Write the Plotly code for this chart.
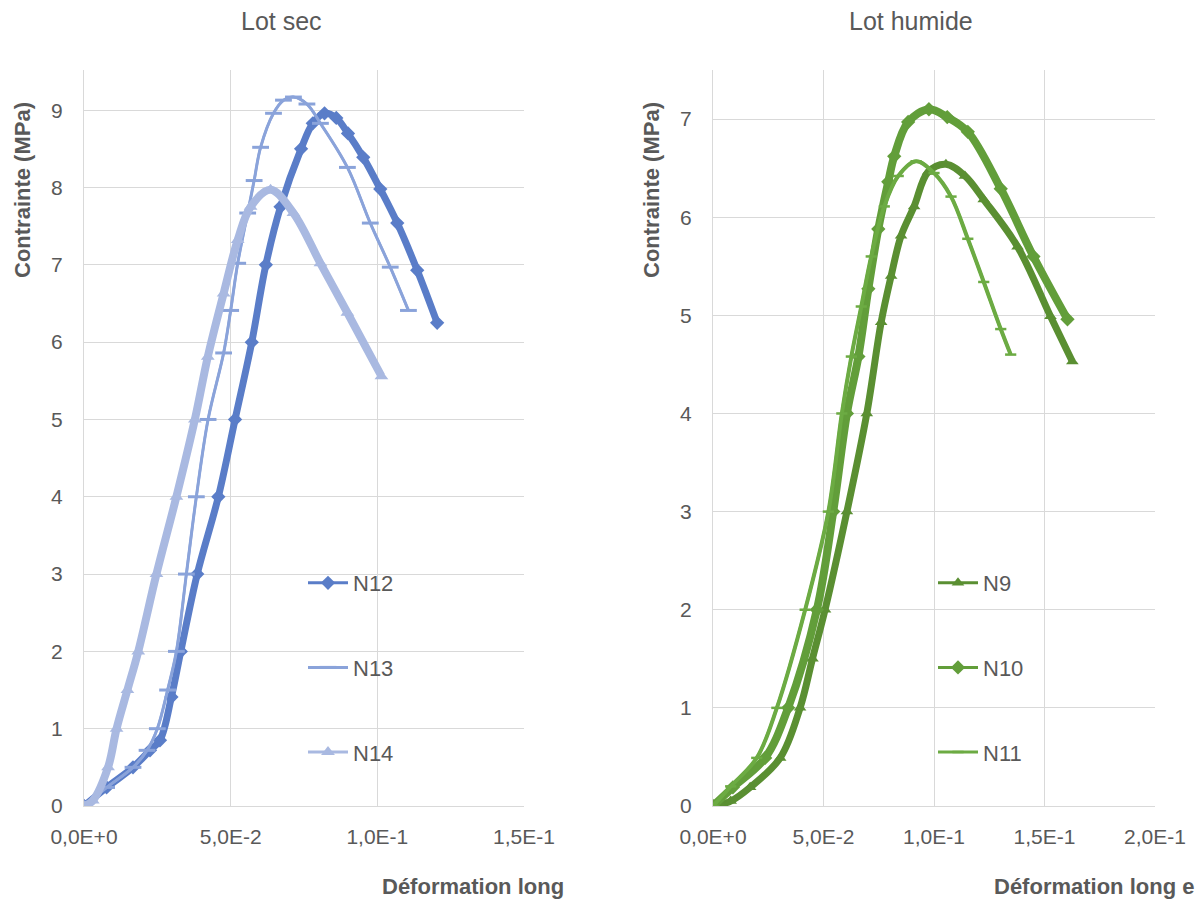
import plotly.graph_objects as go

# ---- data ----
x_ticks_left = [0, 0.05, 0.10, 0.15]
x_ticklabels_left = ["0,0E+0", "5,0E-2", "1,0E-1", "1,5E-1"]
x_ticks_right = [0, 0.05, 0.10, 0.15, 0.20]
x_ticklabels_right = ["0,0E+0", "5,0E-2", "1,0E-1", "1,5E-1", "2,0E-1"]
y_ticks_left = [0, 1, 2, 3, 4, 5, 6, 7, 8, 9]
y_ticks_right = [0, 1, 2, 3, 4, 5, 6, 7]

n12_x = [0, 0.0077, 0.0167, 0.0225, 0.0259, 0.0298, 0.0330, 0.0386, 0.0458, 0.0515, 0.0572, 0.062,
         0.067, 0.074, 0.078, 0.082, 0.086, 0.090, 0.0952, 0.1010, 0.1068, 0.1136, 0.1204]
n12_y = [0, 0.24, 0.50, 0.72, 0.85, 1.41, 2.0, 3.0, 4.0, 5.0, 6.0, 7.0,
         7.75, 8.5, 8.83, 8.96, 8.9, 8.7, 8.39, 7.98, 7.54, 6.93, 6.25]

n13_x = [0, 0.0077, 0.0167, 0.0215, 0.0250, 0.0285, 0.0315, 0.0349, 0.0383, 0.0423, 0.0476, 0.050,
         0.0524, 0.0558, 0.058, 0.0602, 0.0646, 0.068, 0.0714, 0.0760, 0.0806, 0.0898, 0.0976,
         0.1044, 0.1106]
n13_y = [0, 0.24, 0.50, 0.72, 1.0, 1.5, 2.0, 3.0, 4.0, 5.0, 5.86, 6.41,
         7.02, 7.67, 8.09, 8.52, 8.96, 9.13, 9.17, 9.08, 8.83, 8.26, 7.54,
         6.97, 6.41]

n14_x = [0, 0.003, 0.0082, 0.0111, 0.0148, 0.0185, 0.0247, 0.0315, 0.0378, 0.0422,
         0.0476, 0.0524, 0.0568, 0.0636, 0.0714, 0.0806, 0.0898, 0.1014]
n14_y = [0, 0.07, 0.50, 1.0, 1.5, 2.0, 3.0, 4.0, 5.0, 5.81,
         6.63, 7.32, 7.75, 7.97, 7.67, 7.02, 6.38, 5.56]

n9_x = [0, 0.008, 0.0168, 0.0304, 0.0394, 0.0450, 0.0507, 0.0606, 0.0696, 0.0761, 0.0806, 0.0851,
        0.091, 0.0973, 0.1054, 0.1140, 0.1225, 0.1378, 0.1527, 0.1626]
n9_y = [0, 0.05, 0.19, 0.49, 1.0, 1.5, 2.0, 3.0, 4.0, 4.93, 5.40, 5.81,
        6.11, 6.46, 6.54, 6.42, 6.18, 5.70, 4.99, 4.53]

n10_x = [0, 0.009, 0.0236, 0.034, 0.047, 0.0544, 0.0606, 0.0658, 0.0703, 0.0748, 0.0793, 0.082,
         0.0883, 0.0977, 0.1060, 0.1153, 0.1302, 0.1450, 0.1604]
n10_y = [0, 0.19, 0.49, 1.0, 2.0, 3.0, 4.0, 4.58, 5.27, 5.88, 6.36, 6.62,
         6.97, 7.10, 7.02, 6.87, 6.29, 5.60, 4.96]

n11_x = [0, 0.008, 0.0198, 0.0289, 0.0417, 0.0522, 0.0583, 0.0626, 0.0671, 0.0716, 0.0775, 0.0838,
         0.0919, 0.1000, 0.1077, 0.1153, 0.1225, 0.1302, 0.1347]
n11_y = [0, 0.20, 0.49, 1.0, 2.0, 3.0, 4.0, 4.58, 5.09, 5.60, 6.11, 6.42,
         6.57, 6.45, 6.21, 5.78, 5.34, 4.86, 4.60]

# ---- styling ----
FONT = "Liberation Sans, Arial, sans-serif"
GREY = "#595959"
GRID = "#D9D9D9"

fig = go.Figure()

def add(x, y, name, color, symbol, size, band, xa, ya, legend, mlw=0):
    # dense-marker band look of the original (thick smooth line)
    fig.add_trace(go.Scatter(
        x=x, y=y, mode="lines", line=dict(color=color, width=band, shape="spline"),
        xaxis=xa, yaxis=ya, showlegend=False, hoverinfo="skip"))
    # line + markers (this one is shown in the legend)
    fig.add_trace(go.Scatter(
        x=x, y=y, name=name, mode="lines+markers", line=dict(color=color, width=3, shape="spline"),
        marker=dict(symbol=symbol, size=size, color=color, line=dict(color=color, width=mlw)),
        xaxis=xa, yaxis=ya, legend=legend, legendgroup=name))

add(n12_x, n12_y, "N12", "#5A7DC8", "diamond", 11, 7, "x", "y", "legend")
add(n13_x, n13_y, "N13", "#8AA3DA", "line-ew", 12, 2.5, "x", "y", "legend", mlw=3)
add(n14_x, n14_y, "N14", "#A9B9E1", "triangle-up", 12, 8, "x", "y", "legend")
add(n9_x, n9_y, "N9", "#5A8F32", "triangle-up", 11, 7, "x2", "y2", "legend2")
add(n10_x, n10_y, "N10", "#629E3A", "diamond", 11, 8, "x2", "y2", "legend2")
add(n11_x, n11_y, "N11", "#6CAB43", "line-ew", 8, 4, "x2", "y2", "legend2", mlw=2.5)

ydom = [1 - 806 / 899, 1 - 70 / 899]
axis_common = dict(showgrid=True, gridcolor=GRID, gridwidth=1.3, zeroline=False,
                   showline=True, linecolor=GRID, linewidth=1.3, ticks="", automargin=False,
                   tickfont=dict(family=FONT, size=21, color=GREY))

fig.update_layout(
    width=1204, height=899, margin=dict(l=0, r=0, t=0, b=0, autoexpand=False),
    paper_bgcolor="white", plot_bgcolor="white",
    font=dict(family=FONT, color=GREY),
    xaxis=dict(domain=[84 / 1204, 524 / 1204], range=[0, 0.15], tickvals=x_ticks_left,
               ticktext=x_ticklabels_left, anchor="y", ticklabelstandoff=12, **axis_common),
    yaxis=dict(domain=ydom, range=[0, 9.52], tickvals=y_ticks_left, anchor="x",
               ticklabelstandoff=16, **axis_common),
    xaxis2=dict(domain=[713 / 1204, 1155 / 1204], range=[0, 0.2], tickvals=x_ticks_right,
                ticktext=x_ticklabels_right, anchor="y2", ticklabelstandoff=12, **axis_common),
    yaxis2=dict(domain=ydom, range=[0, 7.5], tickvals=y_ticks_right, anchor="x2",
                ticklabelstandoff=16, **axis_common),
    legend=dict(x=303 / 1204, y=1 - 562 / 899, xanchor="left", yanchor="top", bgcolor="rgba(0,0,0,0)",
                font=dict(family=FONT, size=22, color=GREY), tracegroupgap=53, itemwidth=40),
    legend2=dict(x=933 / 1204, y=1 - 562 / 899, xanchor="left", yanchor="top", bgcolor="rgba(0,0,0,0)",
                 font=dict(family=FONT, size=22, color=GREY), tracegroupgap=53, itemwidth=40),
    showlegend=True,
)

annots = [
    dict(text="Lot sec", x=281 / 1204, y=1 - 21 / 899, size=25, bold=False),
    dict(text="Lot humide", x=911 / 1204, y=1 - 21 / 899, size=25, bold=False),
    dict(text="Déformation long", x=473 / 1204, y=1 - 886 / 899, size=22, bold=True),
    dict(text="Déformation long e", x=1094 / 1204, y=1 - 886 / 899, size=22, bold=True),
]
for a in annots:
    fig.add_annotation(text=f"<b>{a['text']}</b>" if a["bold"] else a["text"], xref="paper", yref="paper",
                       x=a["x"], y=a["y"], showarrow=False, xanchor="center", yanchor="middle",
                       font=dict(family=FONT, size=a["size"], color=GREY))
for xp in [23 / 1204, 652 / 1204]:
    fig.add_annotation(text="<b>Contrainte (MPa)</b>", xref="paper", yref="paper", x=xp, y=1 - 190 / 899,
                       showarrow=False, textangle=-90, xanchor="center", yanchor="middle",
                       font=dict(family=FONT, size=22, color=GREY))

fig.write_html("out.html", config={"displayModeBar": False},
               post_script="document.body.style.margin='0';document.body.style.overflow='hidden';")
